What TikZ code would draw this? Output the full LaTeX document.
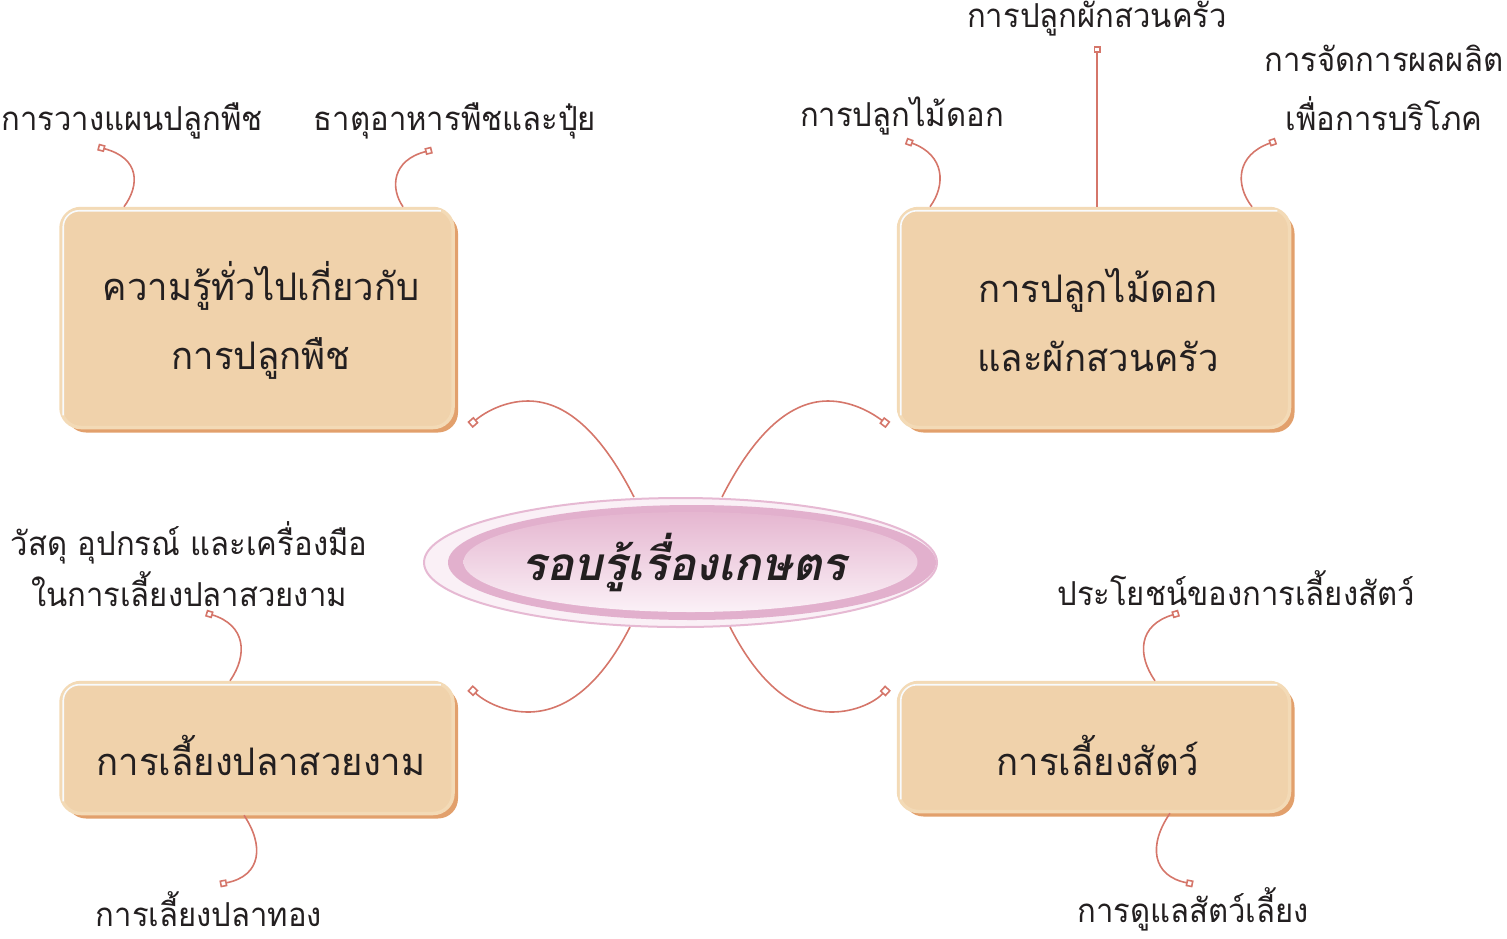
\documentclass[tikz,border=0pt]{standalone}
\usepackage{fontspec}
\usetikzlibrary{arrows.meta,shapes.geometric,shadows}
\newfontfamily\thai[Script=Thai,FakeStretch=0.94]{Loma}
\newfontfamily\thaibox[Script=Thai,FakeStretch=0.96]{Loma}
\newfontfamily\thaititle[Script=Thai]{Loma}
\definecolor{linkc}{HTML}{D5766A}
\definecolor{boxfill}{HTML}{F0D2AB}
\definecolor{boxshade}{HTML}{E2A06C}
\definecolor{boxrim}{HTML}{F3DAB6}
\definecolor{pinkedge}{HTML}{E6B9D3}
\definecolor{pinkouter}{HTML}{FAF0F6}
\definecolor{pinkmid}{HTML}{E2B0CD}
\definecolor{pinktop}{HTML}{E5B6D0}
\definecolor{pinkbot}{HTML}{FBF1F7}
\definecolor{ink}{HTML}{231F20}
\definecolor{gloss}{HTML}{F8FBFD}
\begin{document}
\begin{tikzpicture}[x=1pt,y=-1pt,
  lbl/.style={font=\thai\fontsize{33}{59}\selectfont, text=ink, align=center, inner sep=0pt},
  boxlbl/.style={font=\thaibox\fontsize{38}{69}\selectfont, text=ink, align=center, inner sep=0pt},
  topicbox/.style={rectangle, rounded corners=20pt, fill=boxfill, draw=boxrim, line width=3.5pt,
     general shadow={fill=boxshade, shadow xshift=5pt, shadow yshift=-5pt}},
  glossline/.style={draw=gloss, line width=1.6pt, rounded corners=16pt},
  link/.style={draw=linkc, line width=1.6pt, -{Square[length=7pt,width=7pt,fill=white]}},
  trunk/.style={draw=linkc, line width=1.6pt, -{Square[length=8pt,width=8pt,fill=white]}}
]
\useasboundingbox (0,0) rectangle (1507,938);

% topic boxes
\node[topicbox, minimum width=392pt, minimum height=219pt] (tl) at (257,318) {};
\node[topicbox, minimum width=391pt, minimum height=219pt] (tr) at (1094,318) {};
\node[topicbox, minimum width=392pt, minimum height=131pt] (bl) at (257,748) {};
\node[topicbox, minimum width=391pt, minimum height=129pt] (br) at (1094,747) {};
\foreach \b in {tl,tr,bl,br}{
  \draw[glossline] ([shift={(4,-14)}]\b.south west) -- ([shift={(4,4)}]\b.north west) -- ([shift={(-14,4)}]\b.north east);
}

\node[boxlbl] (tlt) at (261,320) {ความรู้ทั่วไปเกี่ยวกับ\\การปลูกพืช};
\node[boxlbl] (trt) at (1098,320) {การปลูกไม้ดอก\\และผักสวนครัว};
\node[boxlbl] (blt) at (261,755) {การเลี้ยงปลาสวยงาม};
\node[boxlbl] (brt) at (1098,755) {การเลี้ยงสัตว์};

% central ellipse
\node[ellipse, minimum width=513pt, minimum height=129pt, fill=pinkouter, draw=pinkedge, line width=2pt] (core) at (680.5,562.5) {};
\fill[pinkmid] (692,562.5) ellipse [x radius=244, y radius=57.5];
\shade[top color=pinktop, bottom color=pinkbot] (690.5,562) ellipse [x radius=227, y radius=50];
\node[font=\thaititle\bfseries\itshape\fontsize{46}{50}\selectfont, text=ink, inner sep=0pt] (title) at (684,562) {รอบรู้เรื่องเกษตร};

% trunk connectors
\coordinate (c1) at (634,497); \coordinate (e1) at (470,425);
\coordinate (c2) at (722,497); \coordinate (e2) at (888,425);
\coordinate (c3) at (630,627); \coordinate (e3) at (470,688);
\coordinate (c4) at (730,627); \coordinate (e4) at (888,688);
\draw[trunk] (c1) .. controls (605,440) and (570,401) .. (528,401) .. controls (505,401) and (485,412) .. (e1);
\draw[trunk] (c2) .. controls (751,440) and (786,401) .. (828,401) .. controls (851,401) and (871,412) .. (e2);
\draw[trunk] (c3) .. controls (601,684) and (566,712) .. (528,712) .. controls (505,712) and (485,702) .. (e3);
\draw[trunk] (c4) .. controls (759,684) and (794,712) .. (832,712) .. controls (855,712) and (875,702) .. (e4);

% sub labels
\node[lbl] (a1) at (132,121) {การวางแผนปลูกพืช};
\node[lbl] (a2) at (455,121) {ธาตุอาหารพืชและปุ๋ย};
\node[lbl] (b1) at (902,116) {การปลูกไม้ดอก};
\node[lbl] (b2) at (1097,19) {การปลูกผักสวนครัว};
\node[lbl] (b3) at (1384,88) {การจัดการผลผลิต\\เพื่อการบริโภค};
\node[lbl, font=\thai\fontsize{33}{51}\selectfont] (d1) at (189,564) {วัสดุ อุปกรณ์ และเครื่องมือ\\ในการเลี้ยงปลาสวยงาม};
\node[lbl] (d2) at (209,909) {การเลี้ยงปลาทอง};
\node[lbl] (f1) at (1236,588) {ประโยชน์ของการเลี้ยงสัตว์};
\node[lbl] (f2) at (1193,909) {การดูแลสัตว์เลี้ยง};

% sub connectors
\coordinate (s1) at (98,147); \coordinate (s2) at (432,150);
\coordinate (s3) at (906,141); \coordinate (s4) at (1097,46); \coordinate (s5) at (1276,141);
\coordinate (s6) at (206,613); \coordinate (s7) at (220,884);
\coordinate (s8) at (1179,613); \coordinate (s9) at (1193,884);
\draw[link] (tl.north -| 124,0) .. controls (140,185) and (140,158) .. (s1);
\draw[link] (tl.north -| 403,0) .. controls (390,188) and (392,160) .. (s2);
\draw[link] (tr.north -| 930,0) .. controls (946,185) and (945,155) .. (s3);
\draw[link] (tr.north -| 1097,0) -- (s4);
\draw[link] (tr.north -| 1252,0) .. controls (1235,185) and (1236,155) .. (s5);
\draw[link] (bl.north -| 230,0) .. controls (248,655) and (246,625) .. (s6);
\draw[link] (bl.south -| 244,0) .. controls (264,845) and (262,876) .. (s7);
\draw[link] (br.north -| 1155,0) .. controls (1137,655) and (1138,625) .. (s8);
\draw[link] (br.south -| 1170,0) .. controls (1148,845) and (1152,876) .. (s9);
\end{tikzpicture}
\end{document}
